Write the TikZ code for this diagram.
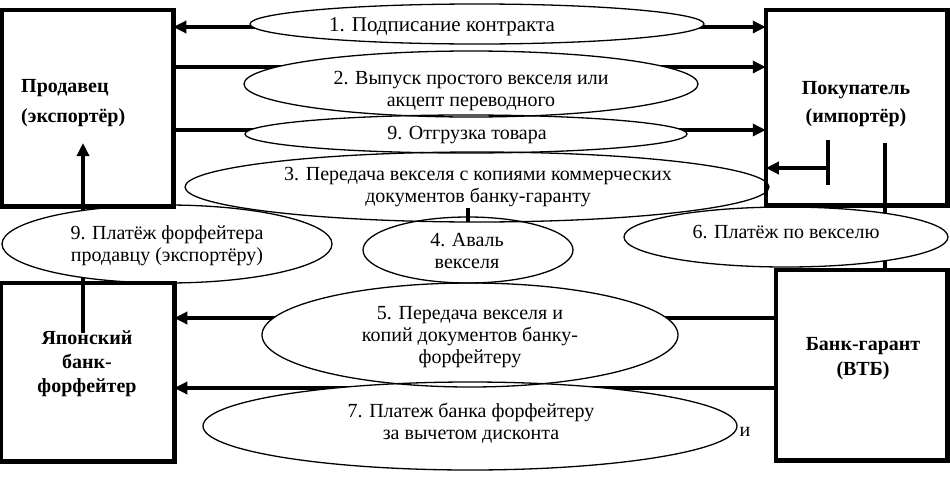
\documentclass[tikz,border=0pt]{standalone}
\usepackage{fontspec}
\setmainfont{Liberation Serif}
\usetikzlibrary{arrows.meta,shapes.geometric}
\begin{document}
\begin{tikzpicture}[x=1pt,y=-1pt,
  box/.style={draw, line width=4.5pt, rectangle, inner sep=0pt},
  ell/.style={ellipse, inner sep=0pt, fill=white, draw=none},
  eline/.style={line width=1.3pt},
  conn/.style={line width=4pt},
  tip/.tip={Triangle[length=13pt,width=12pt]},
  arr/.style={conn, -tip},
  txt/.style={font=\fontsize{20}{22}\selectfont, align=center, inner sep=0pt},
  btxt/.style={font=\fontsize{20}{28}\selectfont\bfseries, align=center, inner sep=0pt},
]
\useasboundingbox (0,0) rectangle (950,477);

% boxes (named, drawn later on top)
\path
  node[box, draw=none, minimum width=167pt, minimum height=192pt] (seller) at (87.5,108) {}
  node[box, draw=none, minimum width=177pt, minimum height=191pt] (buyer) at (856.5,107.5) {}
  node[box, draw=none, minimum width=169pt, minimum height=174pt] (jap) at (87.5,372) {}
  node[box, draw=none, minimum width=167pt, minimum height=186pt] (bank) at (861.5,365) {};

% helper coordinates
\coordinate (tb1) at (828,140);
\coordinate (tb2) at (828,185);
\coordinate (tmid) at (828,168);
\coordinate (vtop) at (885,143);
\coordinate (ja) at (83,333);
\coordinate (sa) at (83,143);
\coordinate (l34a) at (468,208);
\coordinate (l34b) at (468,222);

% connectors
\draw[conn, tip-tip] (seller.east |- 0,27) -- (buyer.west |- 0,27);
\draw[arr] (seller.east |- 0,67) -- (buyer.west |- 0,67);
\draw[arr] (seller.east |- 0,130) -- (buyer.west |- 0,130);
\draw[conn] (tb1) -- (tb2);
\draw[arr] (tmid) -- (buyer.west |- tmid);
\draw[conn] (vtop) -- (vtop |- bank.north);
\draw[arr] (bank.west |- 0,318) -- (jap.east |- 0,318);
\draw[arr] (bank.west |- 0,388) -- (jap.east |- 0,388);
\draw[arr] (ja) -- (sa);

% ellipse fills
\node[ell, minimum width=454pt, minimum height=40pt] (E1) at (477,24) {};
\node[ell, minimum width=454pt, minimum height=66pt] (E2) at (471,84) {};
\node[ell, minimum width=442pt, minimum height=38pt] (E9a) at (466,134) {};
\node[ell, minimum width=584pt, minimum height=70pt] (E3) at (477,187) {};
\node[ell, minimum width=330pt, minimum height=78pt] (E9b) at (167,244) {};
\node[ell, minimum width=210pt, minimum height=66pt] (E4) at (468,250) {};
\node[ell, minimum width=324pt, minimum height=60pt] (E6) at (786,237) {};
\node[ell, minimum width=416pt, minimum height=104pt] (E5) at (470,335) {};
\node[ell, minimum width=534pt, minimum height=88pt] (E7) at (470,426) {};

% ellipse outlines
\draw[eline] (E1.center) ellipse[x radius=227pt, y radius=20pt];
\draw[eline] (E2.center) ellipse[x radius=227pt, y radius=33pt];
\draw[eline] (E9a.center) ellipse[x radius=221pt, y radius=19pt];
\draw[eline] (E3.center) ellipse[x radius=292pt, y radius=35pt];
\draw[eline] (E9b.center) ellipse[x radius=165pt, y radius=39pt];
\draw[eline] (E4.center) ellipse[x radius=105pt, y radius=33pt];
\draw[eline] (E6.center) ellipse[x radius=162pt, y radius=30pt];
\draw[eline] (E5.center) ellipse[x radius=208pt, y radius=52pt];
\draw[eline] (E7.center) ellipse[x radius=267pt, y radius=44pt];

\draw[conn] (l34a) -- (l34b);

% box outlines
\draw[line width=4.5pt] (seller.south west) rectangle (seller.north east);
\draw[line width=4.5pt] (buyer.south west) rectangle (buyer.north east);
\draw[line width=4.5pt] (jap.south west) rectangle (jap.north east);
\draw[line width=4.5pt] (bank.south west) rectangle (bank.north east);

% box labels
\node[btxt, align=left, anchor=west, font=\fontsize{20}{30}\selectfont\bfseries] (tseller) at (21,103) {Продавец\\(экспортёр)};
\node[btxt] (tbuyer) at (856,104) {Покупатель\\(импортёр)};
\node[btxt, font=\fontsize{20}{24}\selectfont\bfseries] (tjap) at (87,364) {Японский\\банк-\\форфейтер};
\node[btxt, font=\fontsize{20}{25}\selectfont\bfseries] (tbank) at (863,359) {Банк-гарант\\(ВТБ)};

% ellipse labels
\node[txt, font=\fontsize{21}{22}\selectfont] (t1) at (442,27) {1. Подписание контракта};
\node[txt] (t2) at (471,91) {2. Выпуск простого векселя или\\акцепт переводного};
\node[txt] (t9a) at (467,135) {9. Отгрузка товара};
\node[txt] (t3) at (478,187) {3. Передача векселя с копиями коммерческих\\документов банку-гаранту};
\node[txt] (t9b) at (167,246) {9. Платёж форфейтера\\продавцу (экспортёру)};
\node[txt] (t4) at (467,251) {4. Аваль\\векселя};
\node[txt] (t6) at (786,232) {6. Платёж по векселю};
\node[txt] (t5) at (470,337) {5. Передача векселя и\\копий документов банку-\\форфейтеру};
\node[txt] (t7) at (471,423) {7. Платеж банка форфейтеру\\за вычетом дисконта};
\node[txt] (tstray) at (745,432) {и};
\end{tikzpicture}
\end{document}
